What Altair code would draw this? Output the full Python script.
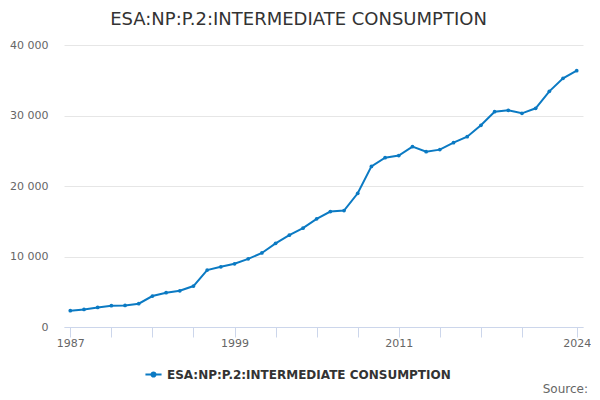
import altair as alt
import pandas as pd

years = list(range(1987, 2025))
values = [
    2310, 2490, 2780, 3020, 3060, 3300, 4390, 4860, 5140, 5810,
    8070, 8540, 8970, 9670, 10500, 11870, 13030, 14020, 15340, 16370,
    16520, 18970, 22780, 24020, 24310, 25580, 24870, 25160, 26150, 27000,
    28610, 30540, 30740, 30310, 31020, 33430, 35270, 36350,
]
series_name = "ESA:NP:P.2:INTERMEDIATE CONSUMPTION"
x_ticks = list(range(1987, 2021, 3)) + [2024]
x_labels = [1987, 1999, 2011, 2024]
y_ticks = [0, 10000, 20000, 30000, 40000]

df = pd.DataFrame({"year": years, "value": values, "series": series_name})

FONT = "DejaVu Sans"
LINE = "#0b7ac3"

label_test = " || ".join(f"datum.value == {v}" for v in x_labels)

line = (
    alt.Chart(df)
    .mark_line(strokeWidth=2, point=alt.OverlayMarkDef(size=14, filled=True, color=LINE))
    .encode(
        x=alt.X(
            "year:Q",
            title=None,
            scale=alt.Scale(domain=[1986.54, 2024.46], nice=False, zero=False),
            axis=alt.Axis(
                values=x_ticks,
                labelExpr=f"({label_test}) ? datum.label : ''",
                format="d",
                grid=False,
                domainColor="#ccd6eb",
                tickColor="#ccd6eb",
                tickSize=10,
                labelPadding=0,
                labelColor="#666666",
                labelFontSize=11,
                labelFont=FONT,
                labelFlush=False,
                labelOverlap=False,
            ),
        ),
        y=alt.Y(
            "value:Q",
            title=None,
            scale=alt.Scale(domain=[0, 40000], nice=False),
            axis=alt.Axis(
                values=y_ticks,
                labelExpr="replace(format(datum.value, ','), ',', ' ')",
                domain=False,
                ticks=False,
                gridColor="#e6e6e6",
                labelPadding=16,
                labelColor="#666666",
                labelFontSize=11,
                labelFont=FONT,
            ),
        ),
        color=alt.Color(
            "series:N",
            scale=alt.Scale(range=[LINE]),
            legend=alt.Legend(
                title=None,
                orient="none",
                legendX=80,
                legendY=320,
                direction="horizontal",
                symbolType="M-1,0L1,0M-0.25,0A0.25,0.25 0 1,0 0.25,0A0.25,0.25 0 1,0 -0.25,0",
                symbolSize=260,
                symbolStrokeWidth=2,
                symbolFillColor=LINE,
                symbolStrokeColor=LINE,
                labelFont=FONT,
                labelFontSize=12,
                labelFontWeight="bold",
                labelColor="#333333",
                labelLimit=400,
            ),
        ),
    )
)

source = (
    alt.Chart(df.head(1))
    .mark_text(align="right", baseline="middle", font=FONT, fontSize=12, color="#666666")
    .encode(x=alt.value(524), y=alt.value(344), text=alt.value("Source:"))
)

chart = (
    (line + source)
    .properties(
        width=519,
        height=282,
        padding={"left": 56, "top": 37, "right": 8, "bottom": 68},
        autosize=alt.AutoSizeParams(type="none"),
        title=alt.TitleParams(
            series_name,
            fontSize=18,
            fontWeight="normal",
            font=FONT,
            color="#333333",
            offset=10,
            dx=-25,
            anchor="middle",
        ),
    )
    .configure_view(stroke=None)
)

chart.save("out.html", embed_options={"renderer": "svg", "actions": False})
